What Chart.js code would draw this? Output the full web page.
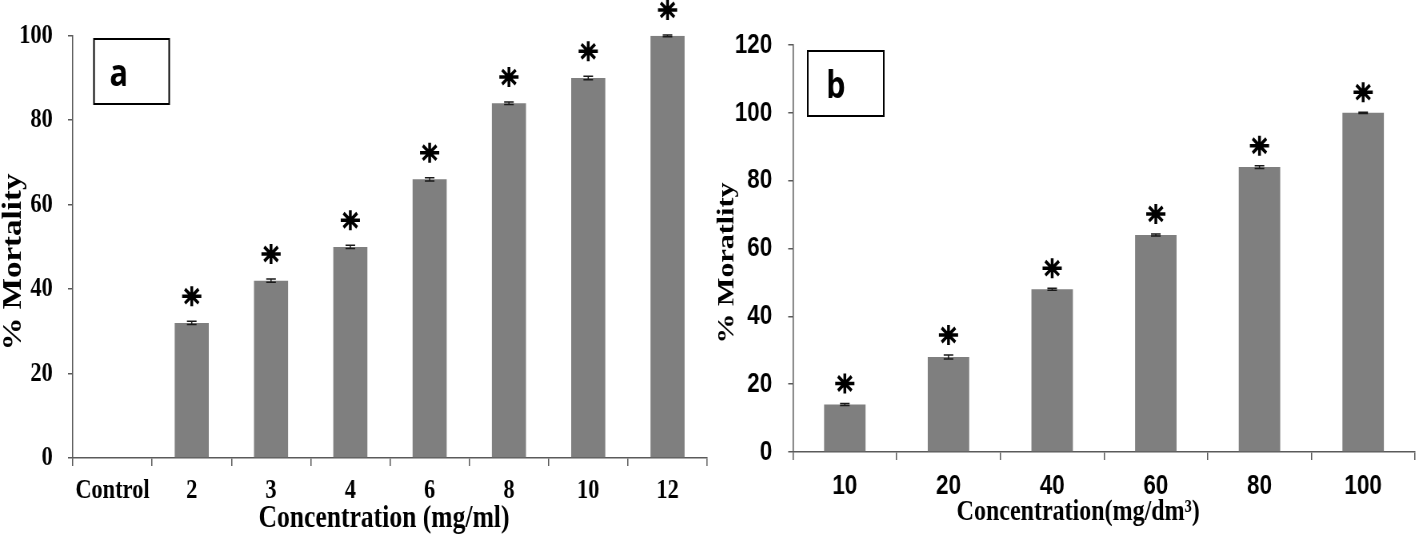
<!DOCTYPE html>
<html>
<head>
<meta charset="utf-8">
<script src="https://cdn.jsdelivr.net/npm/chart.js@4/dist/chart.umd.min.js"></script>
<style>
  body { margin: 0; background: #fff; width: 1418px; height: 540px; overflow: hidden; }
  .panel { position: absolute; top: 0; height: 540px; transform: scaleX(0.8); transform-origin: 0 0; }
</style>
</head>
<body>
<div class="panel" style="left:0;width:894px"><canvas id="chartA" width="894" height="540" style="width:894px;height:540px"></canvas></div>
<div class="panel" style="left:715px;width:879px"><canvas id="chartB" width="879" height="540" style="width:879px;height:540px"></canvas></div>
<script>
// panel a
const labelsA = ["Control", "2", "3", "4", "6", "8", "10", "12"]
const mortalityA = [0, 32, 42, 50, 66, 84, 90, 100]
const errA = [0, 0.4, 0.4, 0.4, 0.4, 0.3, 0.4, 0.2]
const sigA = [false, true, true, true, true, true, true, true]
const ticksA = [0, 20, 40, 60, 80, 100]

// panel b
const labelsB = ["10", "20", "40", "60", "80", "100"]
const mortalityB = [14, 28, 48, 64, 84, 100]
const errB = [0.3, 0.6, 0.3, 0.3, 0.4, 0.2]
const sigB = [true, true, true, true, true, true]
const ticksB = [0, 20, 40, 60, 80, 100, 120]

const AXIS = "#5a5a5a"
const BAR = "#7f7f7f"
const SERIF = "'Liberation Serif', 'Times New Roman', serif"
const SANS = "'Liberation Sans', Arial, sans-serif"

const marks = {
  id: "marks",
  afterDatasetsDraw(chart, args, opts) {
    const ctx = chart.ctx
    const xs = chart.scales.x
    const ys = chart.scales.y
    const values = chart.data.datasets[0].data
    ctx.save()
    values.forEach((v, i) => {
      const px = xs.getPixelForValue(i)
      const e = opts.errors[i]
      if (e > 0) {
        const top = ys.getPixelForValue(v + e)
        const bot = ys.getPixelForValue(v - e)
        ctx.strokeStyle = "#1a1a1a"
        ctx.lineWidth = 1.5
        ctx.beginPath()
        ctx.moveTo(px, top); ctx.lineTo(px, bot)
        ctx.moveTo(px - 6, top); ctx.lineTo(px + 6, top)
        ctx.moveTo(px - 6, bot); ctx.lineTo(px + 6, bot)
        ctx.stroke()
      }
      if (opts.sig[i]) {
        const cy = ys.getPixelForValue(v + e) - opts.starGap
        ctx.strokeStyle = "#000"
        ctx.lineWidth = 3.5
        ctx.beginPath()
        for (let k = 0; k < 4; k++) {
          const a = k * Math.PI / 4
          const dx = Math.cos(a) * 12, dy = Math.sin(a) * 10
          ctx.moveTo(px - dx, cy - dy)
          ctx.lineTo(px + dx, cy + dy)
        }
        ctx.stroke()
        ctx.fillStyle = "#000"
        ctx.beginPath()
        ctx.ellipse(px, cy, 4, 3.5, 0, 0, Math.PI * 2)
        ctx.fill()
      }
    })
    // panel letter box
    const b = opts.box
    ctx.strokeStyle = "#000"
    ctx.lineWidth = 2
    ctx.strokeRect(b.x, b.y, b.w, b.h)
    ctx.fillStyle = "#000"
    ctx.font = "bold 38px 'Open Sans', 'Noto Sans', sans-serif"
    ctx.textAlign = "left"
    ctx.textBaseline = "alphabetic"
    ctx.fillText(b.text, b.tx, b.ty)
    // axis titles
    opts.titles.forEach(t => {
      ctx.save()
      ctx.font = t.font
      ctx.textAlign = "center"
      ctx.textBaseline = "middle"
      ctx.translate(t.x, t.y)
      ctx.rotate(t.rot || 0)
      ctx.fillText(t.text, 0, 0)
      ctx.restore()
    })
    ctx.restore()
  }
}

function makeChart(id, cfg) {
  return new Chart(document.getElementById(id), {
    type: "bar",
    data: {
      labels: cfg.labels,
      datasets: [{
        data: cfg.values,
        backgroundColor: BAR,
        borderWidth: 0,
        barPercentage: cfg.barPct,
        categoryPercentage: 1
      }]
    },
    options: {
      responsive: false,
      animation: false,
      devicePixelRatio: 1,
      layout: { padding: { top: cfg.top, right: cfg.right, bottom: 0, left: 0 } },
      plugins: {
        legend: { display: false },
        tooltip: { enabled: false },
        marks: { errors: cfg.errors, sig: cfg.sig, starGap: cfg.starGap, box: cfg.box, titles: cfg.titles }
      },
      scales: {
        x: {
          grid: {
            display: true, drawOnChartArea: false, drawTicks: true, tickLength: 8, lineWidth: 1.5,
            tickColor: ctx => (cfg.hideLastTick && ctx.index === cfg.labels.length) ? "rgba(0,0,0,0)" : AXIS
          },
          border: { display: true, color: AXIS, width: 1.5 },
          ticks: { color: "#000", font: cfg.tickFont, padding: cfg.xPad, maxRotation: 0, autoSkip: false },
          afterFit: s => { s.height = cfg.xHeight }
        },
        y: {
          min: 0,
          max: cfg.ticks[cfg.ticks.length - 1],
          afterBuildTicks: s => { s.ticks = cfg.ticks.map(v => ({ value: v })) },
          grid: { display: true, drawOnChartArea: false, drawTicks: true, tickLength: 6, tickColor: AXIS, lineWidth: 1.5 },
          border: { display: true, color: AXIS, width: 1.5 },
          ticks: { color: "#000", font: cfg.tickFont, padding: cfg.yPad },
          afterFit: s => { s.width = cfg.yWidth }
        }
      }
    },
    plugins: [marks]
  })
}

makeChart("chartA", {
  labels: labelsA, values: mortalityA, errors: errA, sig: sigA, ticks: ticksA,
  barPct: 0.43, top: 35, right: 10, xHeight: 82, yWidth: 91, xPad: 8, yPad: 19,
  tickFont: { family: SERIF, size: 28, weight: "bold" },
  starGap: 25,
  hideLastTick: false,
  box: { x: 117.5, y: 39, w: 94, h: 65, text: "a", tx: 137, ty: 86 },
  titles: [
    { text: "% Mortality", x: 17, y: 262, rot: -Math.PI / 2, font: "bold 33px " + SERIF },
    { text: "Concentration (mg/ml)", x: 480, y: 519, font: "bold 32px " + SERIF }
  ]
})

makeChart("chartB", {
  labels: labelsB, values: mortalityB, errors: errB, sig: sigB, ticks: ticksB,
  barPct: 0.40, top: 45, right: 4, xHeight: 88, yWidth: 97.5, xPad: 9, yPad: 20,
  tickFont: { family: SANS, size: 28, weight: "bold" },
  starGap: 20,
  hideLastTick: true,
  box: { x: 116, y: 51, w: 95, h: 65, text: "b", tx: 139, ty: 98 },
  titles: [
    { text: "% Moratlity", x: 15, y: 263, rot: -Math.PI / 2, font: "bold 30px " + SERIF },
    { text: "Concentration(mg/dm³)", x: 454, y: 512, font: "bold 30px " + SERIF }
  ]
})
</script>
</body>
</html>
